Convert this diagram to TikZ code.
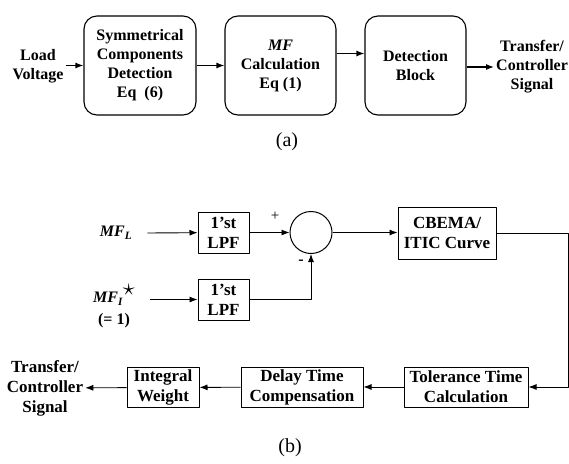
\documentclass[tikz,border=0pt]{standalone}
\usepackage{fontspec}
\setmainfont{Liberation Serif}
\usetikzlibrary{arrows.meta}

\begin{document}
\begin{tikzpicture}[x=1pt, y=-1pt, line join=round, >={Latex[length=8pt,width=6pt]},
	font=\fontsize{16}{19}\selectfont\bfseries,
	rblock/.style={draw, line width=1.1pt, rounded corners=13pt, minimum height=99pt, align=center, inner sep=0pt},
	block/.style={draw, line width=1pt, minimum height=40pt, align=center, inner sep=0pt, font=\fontsize{17}{20}\selectfont\bfseries},
	lbl/.style={align=center, inner sep=2pt},
	captext/.style={font=\fontsize{20}{24}\selectfont\mdseries}]
	\useasboundingbox (0,0) rectangle (569,463);
	% (a)
	\node[lbl] (load) at (38,66) {Load\\Voltage};
	\node[rblock, minimum width=112pt] (sym) at (140,65.5) {Symmetrical\\Components\\Detection\\Eq\ \ (6)};
	\node[rblock, minimum width=111pt] (mf) at (280.5,65.5) {\itshape MF\\Calculation\\Eq (1)};
	\node[rblock, minimum width=101pt] (det) at (415.5,65.5) {Detection\\Block};
	\node[lbl, anchor=west] (trans) at (494,67) {Transfer/\\Controller\\Signal};
	\draw[->, line width=1.2pt] (load.east |- sym) -- (sym);
	\draw[->, line width=1.2pt] (sym) -- (mf);
	\draw[->, line width=1.2pt] ([yshift=12pt]mf.east) -- ([yshift=12pt]det.west);
	\draw[->, line width=1.2pt] ([yshift=-1.5pt]det.east) -- (trans.west);
	\node[captext] (capa) at (287,142) {(a)};
	% (b)
	\node[lbl] (mfl) at (116,233) {\itshape MF\textsubscript{L}};
	\node[lbl, font=\fontsize{16}{22}\selectfont\bfseries] (mfi) at (114,306) {\itshape MF\textsubscript{I}\raisebox{7pt}{\scalebox{1.4}{$\star$}}\\(= 1)};
	\node[block, minimum width=51pt, minimum height=41pt] (lpfa) at (223.5,232.5) {1'st\\LPF};
	\node[block, minimum width=51pt, minimum height=41pt] (lpfb) at (223.5,299.5) {1'st\\LPF};
	\node[draw, circle, line width=1pt, minimum size=42pt, inner sep=0pt] (sum) at (311,232.5) {};
	\node[block, minimum width=98pt, minimum height=52pt] (cbema) at (447,233) {CBEMA/\\ITIC Curve};
	\node[block, minimum width=124pt] (tol) at (466,387) {Tolerance Time\\Calculation};
	\node[block, minimum width=122pt] (delay) at (302,387) {Delay Time\\Compensation};
	\node[block, minimum width=72pt] (integ) at (163,387.5) {Integral\\Weight};
	\node[lbl, font=\fontsize{17}{20}\selectfont\bfseries] (out) at (45,388) {Transfer/\\Controller\\Signal};
	\node[font=\fontsize{15}{17}\selectfont\mdseries] (plus) at (275,216) {+};
	\node (minus) at (301,262) {-};
	\coordinate (turn) at (568,233);
	\draw[->, line width=0.9pt] ([xshift=13pt]mfl.east) -- (lpfa);
	\draw[->, line width=0.9pt] ([xshift=13pt]mfi.east |- lpfb) -- (lpfb);
	\draw[->, line width=0.9pt] (lpfa) -- (sum);
	\draw[->, line width=0.9pt] (lpfb) -| (sum.south);
	\draw[->, line width=0.9pt] (sum) -- (sum -| cbema.west);
	\draw[->, line width=0.9pt] (cbema) -- (turn) |- (tol);
	\draw[->, line width=0.9pt] (tol) -- (delay);
	\draw[->, line width=0.9pt] (delay) -- (integ);
	\draw[->, line width=0.9pt] (integ) -- (out);
	\node[captext] (capb) at (290,448) {(b)};
\end{tikzpicture}
\end{document}
